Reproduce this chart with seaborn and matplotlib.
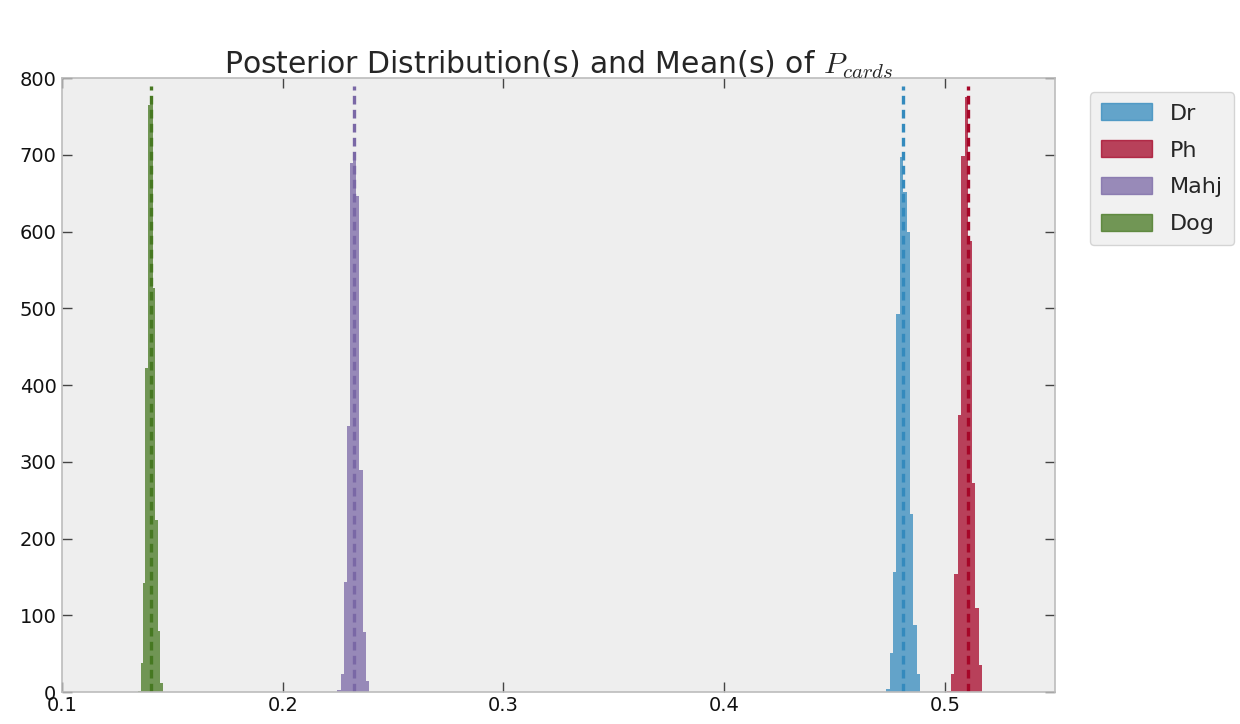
import numpy as np
import pandas as pd
import matplotlib
matplotlib.use("Agg")
import matplotlib.pyplot as plt
import seaborn as sns
from matplotlib.patches import Patch

# ---- data ----
series = ["Dr", "Ph", "Mahj", "Dog"]
colors = ["#348ABD", "#A60628", "#7A68A6", "#467821"]

# histogram ranges (first and last bin edge), 10 bins each
dr_range = (0.4735, 0.4887)
ph_range = (0.5010, 0.5170)
mahj_range = (0.2248, 0.2390)
dog_range = (0.1345, 0.1456)

dr_counts = [4, 51, 157, 493, 697, 652, 599, 232, 87, 23]
ph_counts = [2, 23, 154, 361, 698, 776, 588, 272, 109, 36]
mahj_counts = [3, 23, 144, 347, 690, 700, 646, 289, 78, 15]
dog_counts = [2, 38, 142, 422, 765, 773, 526, 224, 80, 12]

means = [0.4810, 0.5104, 0.2322, 0.1401]
mean_line_top = 790

x_ticks = [0.1, 0.2, 0.3, 0.4, 0.5]
y_ticks = [0, 100, 200, 300, 400, 500, 600, 700, 800]

ranges = [dr_range, ph_range, mahj_range, dog_range]
counts = [dr_counts, ph_counts, mahj_counts, dog_counts]

# ---- style ----
sns.set_theme(style="white")
plt.rcParams["font.family"] = ["DejaVu Sans"]
plt.rcParams["mathtext.fontset"] = "cm"

fig = plt.figure(figsize=(12.4, 7.24), dpi=100)
fig.patch.set_facecolor("white")
ax = fig.add_axes([0.050, 0.044, 0.801, 0.848])
ax.set_facecolor("#EEEEEE")

for name, col, rng, cnt in zip(series, colors, ranges, counts):
    edges = [float(e) for e in np.linspace(rng[0], rng[1], len(cnt) + 1)]
    centers = [(a + b) / 2 for a, b in zip(edges[:-1], edges[1:])]
    df = pd.DataFrame({"x": centers, "w": cnt})
    sns.histplot(data=df, x="x", weights="w", bins=edges, element="step",
                 fill=True, color=col, alpha=0.75, linewidth=0, ax=ax)

for m, col in zip(means, colors):
    ax.vlines(m, 0, mean_line_top, colors=col, linewidth=2.4,
              linestyles=(0, (2.6, 1.6)))

ax.set_xlim(0.1, 0.55)
ax.set_ylim(0, 800)
ax.set_xticks(x_ticks)
ax.set_xticklabels([str(t) for t in x_ticks])
ax.set_yticks(y_ticks)
ax.set_yticklabels([str(t) for t in y_ticks])
ax.set_xlabel("")
ax.set_ylabel("")
ax.grid(False)
ax.tick_params(axis="both", direction="in", length=7, width=1,
               color="#444444", labelsize=14, labelcolor="#111111",
               top=True, right=True, bottom=True, left=True)
ax.tick_params(axis="y", pad=4)
ax.tick_params(axis="x", pad=3)
for s in ax.spines.values():
    s.set_color("#BCBCBC")
    s.set_linewidth(1.2)

ax.set_title(r"Posterior Distribution(s) and Mean(s) of $P_{cards}$",
             fontsize=21.5, pad=3)

handles = [Patch(facecolor=c, edgecolor=c, alpha=0.75) for c in colors]
leg = ax.legend(handles, series, loc="upper left", bbox_to_anchor=(1.035, 0.977),
                fontsize=16, frameon=True, fancybox=True, handlelength=2.3,
                handleheight=0.8, borderpad=0.5, labelspacing=0.75,
                handletextpad=0.8, borderaxespad=0)
leg.get_frame().set_facecolor("#EEEEEE")
leg.get_frame().set_edgecolor("#CCCCCC")

fig.savefig("out.png", dpi=100)
